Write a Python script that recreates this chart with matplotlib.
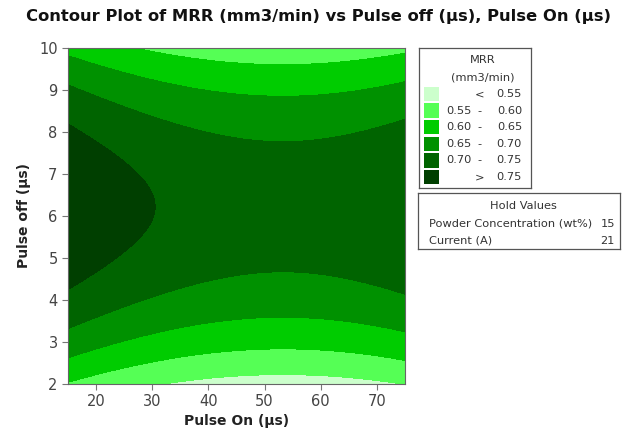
import matplotlib
matplotlib.use("Agg")
import matplotlib.pyplot as plt
import numpy as np
from matplotlib.patches import Rectangle

# fitted MRR model (coded in natural units), other factors held constant
b0 = 0.42786
b_on = -0.004839
b_off = 0.13746
b_on2 = 4.543e-5
b_off2 = -0.01105

pulse_on_range = (15, 75)
pulse_off_range = (2, 10)

levels = [0.0, 0.55, 0.60, 0.65, 0.70, 0.75, 1.5]
colors = ["#ccffcc", "#55ff55", "#00cc00", "#009100", "#006400", "#003f00"]
legend_labels = [("", "<", "0.55"), ("0.55", "-", "0.60"), ("0.60", "-", "0.65"),
                 ("0.65", "-", "0.70"), ("0.70", "-", "0.75"), ("", ">", "0.75")]
hold_names = ["Powder Concentration (wt%)", "Current (A)"]
hold_values = ["15", "21"]

on = np.linspace(*pulse_on_range, 300)
off = np.linspace(*pulse_off_range, 300)
X, Y = np.meshgrid(on, off)
Z = b0 + b_on * X + b_off * Y + b_on2 * X**2 + b_off2 * Y**2

W, H = 632, 432
fig = plt.figure(figsize=(W / 100, H / 100), dpi=100)

def box(left, top, right, bottom):
    return [left / W, 1 - bottom / H, (right - left) / W, (bottom - top) / H]

ax = fig.add_axes(box(68, 48, 405, 384))
ax.contourf(X, Y, Z, levels=levels, colors=colors)
ax.set_xlim(pulse_on_range)
ax.set_ylim(pulse_off_range)
ax.set_xticks([20, 30, 40, 50, 60, 70])
ax.set_yticks(range(2, 11))
ax.tick_params(direction="out", length=4, color="#777777", labelcolor="#444444",
               labelsize=10.5)
for s in ax.spines.values():
    s.set_color("#666666")
    s.set_linewidth(0.8)
ax.set_xlabel("Pulse On (µs)", fontsize=10, fontweight="bold", color="#222222", labelpad=3)
ax.set_ylabel("Pulse off (µs)", fontsize=10, fontweight="bold", color="#222222", labelpad=6)

fig.text(319 / W, 1 - 17 / H, "Contour Plot of MRR (mm3/min) vs Pulse off (µs), Pulse On (µs)",
         ha="center", va="center", fontsize=11.8, fontweight="bold", color="#111111")

# legend of contour bands
lg = fig.add_axes(box(419, 48, 531, 188))
lg.set_xlim(0, 112)
lg.set_ylim(140, 0)
lg.set_xticks([])
lg.set_yticks([])
for s in lg.spines.values():
    s.set_color("#555555")
    s.set_linewidth(0.9)
tk = dict(fontsize=8.2, color="#333333", va="center")
lg.text(64, 12, "MRR", ha="center", **tk)
lg.text(64, 29, "(mm3/min)", ha="center", **tk)
for i, (c, (lo, sep, hi)) in enumerate(zip(colors, legend_labels)):
    yc = 46 + i * 16.6
    lg.add_patch(Rectangle((5, yc - 7.3), 15, 14.6, color=c, lw=0))
    lg.text(27, yc, lo, ha="left", **tk)
    lg.text(61, yc, sep, ha="center", **tk)
    lg.text(103, yc, hi, ha="right", **tk)

# hold values
hv = fig.add_axes(box(418, 193, 620, 249))
hv.set_xlim(0, 202)
hv.set_ylim(56, 0)
hv.set_xticks([])
hv.set_yticks([])
for s in hv.spines.values():
    s.set_color("#555555")
    s.set_linewidth(0.9)
hv.text(105, 13, "Hold Values", ha="center", **tk)
for i, (n, v) in enumerate(zip(hold_names, hold_values)):
    hv.text(11, 31 + i * 17, n, ha="left", **tk)
    hv.text(197, 31 + i * 17, v, ha="right", **tk)

fig.savefig("out.png", dpi=100)
